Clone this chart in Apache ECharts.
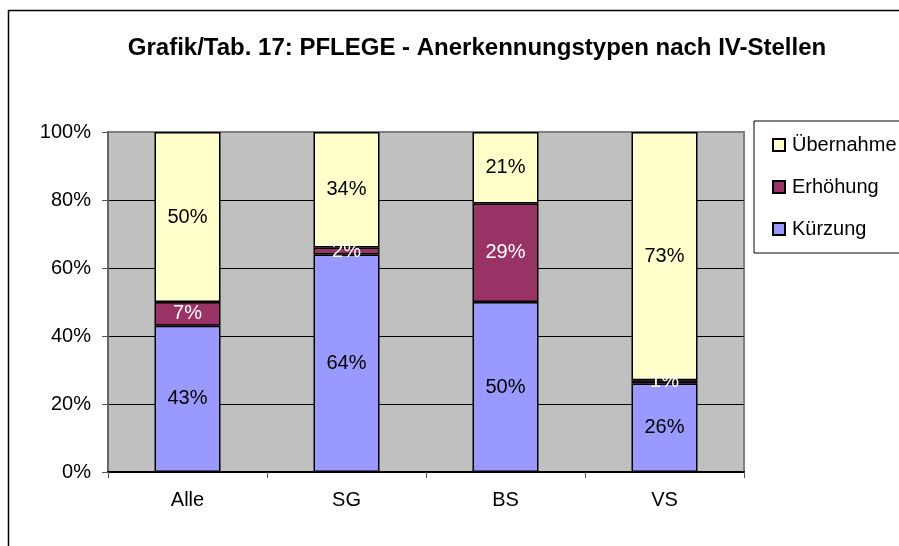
<!DOCTYPE html>
<html>
<head>
<meta charset="utf-8">
<script src="https://cdn.jsdelivr.net/npm/echarts@6/dist/echarts.min.js"></script>
<style>
    html, body { margin: 0; padding: 0; background: #fff; }
    #chart { width: 899px; height: 546px; }
</style>
</head>
<body>
<div id="chart"></div>
<script>
    // Werte in Prozent, gelesen aus der Grafik
    var categories = ['Alle', 'SG', 'BS', 'VS'];
    var kuerzung = [43, 64, 50, 26];
    var erhoehung = [7, 2, 29, 1];
    var uebernahme = [50, 34, 21, 73];

    var font = '"Liberation Sans", Arial, sans-serif';

    function barSeries(name, values, color, labelColor) {
        return {
            name: name,
            type: 'bar',
            stack: 'total',
            barWidth: 66,
            data: values,
            itemStyle: { color: color, borderColor: '#000', borderWidth: 1.5 },
            label: {
                show: true,
                position: 'inside',
                formatter: '{c}%',
                color: labelColor,
                fontFamily: font,
                fontSize: 20
            },
            emphasis: { disabled: true }
        };
    }

    var chart = echarts.init(document.getElementById('chart'));
    chart.setOption({
        animation: false,
        backgroundColor: '#fff',
        title: {
            text: 'Grafik/Tab. 17: PFLEGE - Anerkennungstypen nach IV-Stellen',
            left: 472,
            textAlign: 'center',
            top: 31,
            textStyle: { fontFamily: font, fontSize: 24, fontWeight: 'bold', color: '#000' }
        },
        legend: {
            orient: 'vertical',
            left: 754,
            top: 121,
            data: ['Übernahme', 'Erhöhung', 'Kürzung'],
            icon: 'rect',
            itemWidth: 12,
            itemHeight: 12,
            itemGap: 20,
            padding: [13, 60, 13, 18],
            borderColor: '#000',
            borderWidth: 1,
            backgroundColor: '#fff',
            textStyle: { fontFamily: font, fontSize: 20, color: '#000', lineHeight: 22, padding: [0, 0, 0, 2] }
        },
        graphic: [{
            type: 'rect',
            shape: { x: 8.5, y: 10.5, width: 1000, height: 1000 },
            style: { fill: null, stroke: '#000', lineWidth: 1.5 },
            z: 100
        }],
        grid: {
            left: 108,
            right: 155,
            top: 132,
            bottom: 74,
            show: true,
            backgroundColor: '#c0c0c0',
            borderColor: '#808080',
            borderWidth: 2
        },
        xAxis: {
            type: 'category',
            data: categories,
            axisLine: { show: true, lineStyle: { color: '#000', width: 2 } },
            axisTick: { show: true, length: 6, lineStyle: { color: '#555' } },
            axisLabel: {
                margin: 18,
                fontFamily: font,
                fontSize: 20,
                color: '#000'
            }
        },
        yAxis: {
            type: 'value',
            min: 0,
            max: 100,
            interval: 20,
            axisLine: { show: true, lineStyle: { color: '#666', width: 2 } },
            axisTick: { show: true, length: 6, lineStyle: { color: '#555' } },
            splitLine: { show: true, showMinLine: false, showMaxLine: false, lineStyle: { color: '#000', width: 1 } },
            axisLabel: {
                margin: 17,
                fontFamily: font,
                fontSize: 20,
                color: '#000',
                formatter: '{value}%'
            }
        },
        series: [
            barSeries('Kürzung', kuerzung, '#9999ff', '#000'),
            barSeries('Erhöhung', erhoehung, '#993366', '#fff'),
            barSeries('Übernahme', uebernahme, '#ffffcc', '#000')
        ]
    });
</script>
</body>
</html>
